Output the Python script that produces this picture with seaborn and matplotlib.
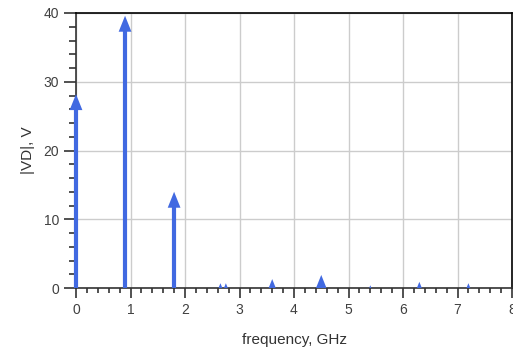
import numpy as np
import matplotlib
matplotlib.use("Agg")
import matplotlib.pyplot as plt
from matplotlib.path import Path
from matplotlib.patches import Rectangle
from matplotlib.ticker import MultipleLocator
import seaborn as sns

# data
freqs = [0.0, 0.9, 1.8, 2.65, 2.75, 3.6, 4.5, 5.4, 6.3, 7.2]
vd = [28.2, 39.6, 14.0, 0.7, 0.7, 1.3, 1.9, 0.4, 0.9, 0.7]
x_ticks = [0, 1, 2, 3, 4, 5, 6, 7, 8]
y_ticks = [0, 10, 20, 30, 40]

sns.set_style("white")
plt.rcParams['font.family'] = ['Liberation Sans', 'DejaVu Sans']

blue = '#4169E1'
fig = plt.figure(figsize=(5.13, 3.51), dpi=100)
ax = fig.add_axes([76/513, 1-288/351, (512-76)/513, (288-13)/351])
ax.set_xlim(0, 8)
ax.set_ylim(0, 40)

# stems end inside the arrow head (head is ~2.2 data units tall)
stem_top = [max(v - 1.2, 0) for v in vd]
ax.vlines(freqs, 0, stem_top, color=blue, linewidth=3, zorder=3, clip_on=False)

tri = Path([(0, 0), (-0.4, -1), (0.4, -1), (0, 0)],
           [Path.MOVETO, Path.LINETO, Path.LINETO, Path.CLOSEPOLY])
sns.scatterplot(x=freqs, y=vd, marker=tri, s=23**2, color=blue,
                linewidth=0, edgecolor='none', ax=ax, zorder=4)
clip = Rectangle((-0.1, 0), 1.2, 1.2, transform=ax.transAxes)
for c in ax.collections:
    c.set_clip_path(clip)

ax.set_xticks(x_ticks)
ax.set_yticks(y_ticks)
ax.xaxis.set_minor_locator(MultipleLocator(0.2))
ax.yaxis.set_minor_locator(MultipleLocator(2))
ax.grid(True, which='major', color='#cccccc', linewidth=1)
ax.set_axisbelow(True)

ax.tick_params(axis='both', which='both', direction='out', width=1.2,
               color='#333333', labelsize=10, labelcolor='#404040',
               bottom=True, left=True)
ax.tick_params(axis='y', which='major', length=8.5)
ax.tick_params(axis='y', which='minor', length=5)
ax.tick_params(axis='x', which='major', length=7)
ax.tick_params(axis='x', which='minor', length=3.8)

for s in ['left', 'bottom']:
    ax.spines[s].set_color('#333333')
    ax.spines[s].set_linewidth(1.2)
for s in ['top', 'right']:
    ax.spines[s].set_color('#000000')
    ax.spines[s].set_linewidth(1.2)

ax.set_xlabel('frequency, GHz', fontsize=11, color='#333333', labelpad=11.5)
ax.set_ylabel('|VD|, V', fontsize=11, color='#333333', labelpad=6)

fig.savefig('out.png', dpi=100)
